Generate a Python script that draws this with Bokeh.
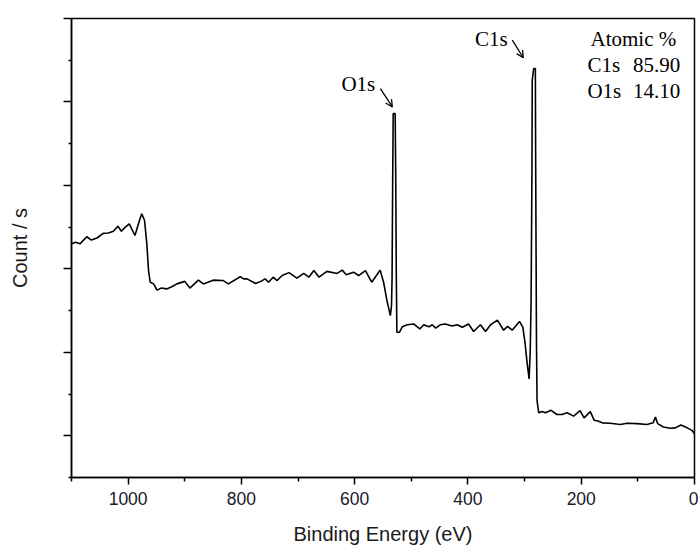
from bokeh.plotting import figure
from bokeh.models import Range1d, FixedTicker, Label, Arrow, OpenHead, ColumnDataSource
from bokeh.embed import file_html
from bokeh.resources import INLINE

# Binding energy (eV), descending
energy = [1100, 1093, 1085, 1073, 1065, 1055, 1044, 1035, 1026, 1018, 1012, 1005, 998, 988,
          980, 976, 971, 967, 964, 961, 955, 949, 941, 932, 923, 914, 900, 891, 876, 867,
          850, 832, 823, 802, 796, 790, 775, 766, 758, 752, 744, 737, 728, 716, 702, 690,
          681, 672, 663, 649, 631, 622, 615, 602, 593, 581, 570, 555, 549, 543, 537, 535,
          534, 533, 532, 528.5, 527.5, 526.5, 525.5, 521, 516, 507, 496, 485, 478, 469, 463,
          457, 449, 440, 428, 419, 410, 399, 390, 378, 369, 360, 348, 337, 330, 322, 309,
          303, 299, 296, 292, 290, 288.5, 287, 286.5, 284, 281, 280.5, 279, 278, 275, 269,
          263.5, 253, 243, 234, 225, 213.5, 202, 195, 184, 177, 169, 163, 149, 131, 119,
          102, 84, 73, 69, 65, 55, 43, 34, 24, 13, 4.5, 0]
# Count / s (arbitrary units)
counts = [2.30, 2.32, 2.30, 2.385, 2.345, 2.37, 2.425, 2.43, 2.45, 2.51, 2.45, 2.50, 2.54, 2.40,
          2.58, 2.66, 2.58, 2.30, 1.98, 1.84, 1.82, 1.745, 1.77, 1.76, 1.785, 1.82, 1.85, 1.77, 1.865, 1.82,
          1.865, 1.86, 1.82, 1.905, 1.88, 1.88, 1.825, 1.85, 1.88, 1.84, 1.90, 1.86, 1.92, 1.955, 1.89, 1.945,
          1.90, 1.98, 1.90, 1.97, 1.945, 1.985, 1.93, 1.96, 1.92, 1.98, 1.84, 1.985, 1.84, 1.62, 1.44, 1.56,
          1.88, 2.96, 3.86, 3.86, 3.08, 1.91, 1.24, 1.24, 1.305, 1.33, 1.34, 1.28, 1.33, 1.305, 1.33,
          1.29, 1.33, 1.34, 1.315, 1.33, 1.30, 1.34, 1.25, 1.33, 1.25, 1.33, 1.385, 1.265, 1.31, 1.265, 1.37,
          1.30, 1.10, 0.90, 0.68, 1.02, 1.62, 3.20, 4.26, 4.40, 4.40, 3.38, 1.10, 0.42, 0.275, 0.29,
          0.275, 0.305, 0.255, 0.255, 0.275, 0.235, 0.30, 0.215, 0.29, 0.185, 0.175, 0.155, 0.15, 0.135, 0.15,
          0.145, 0.135, 0.155, 0.225, 0.145, 0.105, 0.09, 0.095, 0.13, 0.095, 0.065, 0.025]

x_major = [0, 200, 400, 600, 800, 1000]
x_minor = [100, 300, 500, 700, 900, 1100]
y_major = [0, 1, 2, 3, 4, 5]
y_minor = [-0.5, 0.5, 1.5, 2.5, 3.5, 4.5]

atomic_title = "Atomic %"
atomic_names = ["C1s", "O1s"]
atomic_values = ["85.90", "14.10"]

p = figure(width=698, height=550, output_backend="svg", toolbar_location=None,
           x_range=Range1d(1100, 0), y_range=Range1d(-0.5, 5),
           min_border_left=71, min_border_right=4, min_border_top=18, min_border_bottom=73)
p.grid.visible = False
p.background_fill_color = "white"
p.border_fill_color = "white"
p.outline_line_color = "black"
p.outline_line_width = 1.5

src = ColumnDataSource(dict(x=energy, y=counts))
p.line("x", "y", source=src, line_color="black", line_width=1.6)

xa = p.xaxis[0]
xa.ticker = FixedTicker(ticks=x_major, minor_ticks=x_minor)
xa.axis_label = "Binding Energy (eV)"
xa.axis_label_text_font = "Liberation Sans"
xa.axis_label_text_font_size = "20px"
xa.axis_label_text_font_style = "normal"
xa.axis_label_text_color = "#1a1a1a"
xa.axis_label_standoff = 15
xa.major_label_text_font = "Liberation Sans"
xa.major_label_text_font_size = "17.5px"
xa.major_label_text_color = "#1a1a2a"
xa.major_label_standoff = 7
xa.major_tick_out = 7
xa.major_tick_in = 0
xa.minor_tick_out = 4
xa.minor_tick_in = 0
xa.axis_line_width = 1.5
xa.major_tick_line_width = 1.5
xa.minor_tick_line_width = 1.5

ya = p.yaxis[0]
ya.ticker = FixedTicker(ticks=y_major, minor_ticks=y_minor)
ya.axis_label = "Count / s"
ya.axis_label_text_font = "Liberation Sans"
ya.axis_label_text_font_size = "20px"
ya.axis_label_text_font_style = "normal"
ya.axis_label_text_color = "#1a1a1a"
ya.axis_label_standoff = 33
ya.major_label_text_font_size = "0px"
ya.major_label_text_color = None
ya.major_label_standoff = 0
ya.major_tick_out = 8
ya.major_tick_in = 0
ya.minor_tick_out = 3
ya.minor_tick_in = 0
ya.axis_line_width = 1.5
ya.major_tick_line_width = 1.5
ya.minor_tick_line_width = 1.5

serif = "Liberation Serif"
fs = "21px"
p.add_layout(Label(x=358.7, y=4.76, text="C1s", text_font=serif, text_font_size=fs,
                   text_align="center", text_baseline="middle", text_color="black"))
p.add_layout(Label(x=593.5, y=4.22, text="O1s", text_font=serif, text_font_size=fs,
                   text_align="center", text_baseline="middle", text_color="black"))
p.add_layout(Arrow(x_start=321.7, y_start=4.74, x_end=302.3, y_end=4.53,
                   line_width=1.3, line_color="black",
                   end=OpenHead(size=7, line_width=1.3, line_color="black")))
p.add_layout(Arrow(x_start=554.6, y_start=4.16, x_end=533.5, y_end=3.94,
                   line_width=1.3, line_color="black",
                   end=OpenHead(size=7, line_width=1.3, line_color="black")))

p.add_layout(Label(x=108, y=4.75, text=atomic_title, text_font=serif, text_font_size=fs,
                   text_align="center", text_baseline="middle", text_color="black"))
for name, val, yy in zip(atomic_names, atomic_values, [4.44, 4.13]):
    p.add_layout(Label(x=189, y=yy, text=name, text_font=serif, text_font_size=fs,
                       text_align="left", text_baseline="middle", text_color="black"))
    p.add_layout(Label(x=25, y=yy, text=val, text_font=serif, text_font_size=fs,
                       text_align="right", text_baseline="middle", text_color="black"))

open("out.html", "w").write(file_html(p, INLINE))
